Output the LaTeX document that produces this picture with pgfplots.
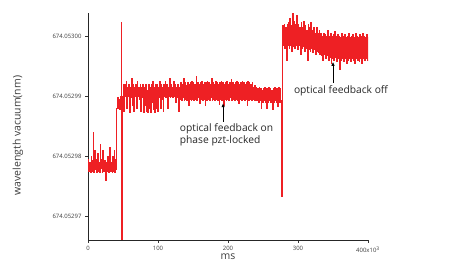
\documentclass[border=0pt]{standalone}
\usepackage{pgfplots}
\pgfplotsset{compat=1.18}
\usepackage{fontspec}
\setmainfont{Open Sans}
\usetikzlibrary{arrows.meta}
\definecolor{myred}{RGB}{238,32,36}
\definecolor{lab}{RGB}{60,60,60}
\begin{document}
\begin{tikzpicture}
\useasboundingbox (0,0) rectangle (453bp,271bp);
\begin{axis}[
  at={(88bp,31bp)}, anchor=south west,
  scale only axis, width=280bp, height=227bp,
  xmin=0, xmax=400, ymin=-0.4, ymax=3.383,
  axis lines=left, axis line style={-, line width=0.8pt, black!85},
  tick align=outside, tick style={black!80, line width=0.5pt},
  major tick length=3bp,
  xtick={0,100,200,300,400},
  xticklabels={0,100,200,300,400x10\textsuperscript{3}},
  ytick={0,1,2,3},
  yticklabels={674.05297,674.05298,674.05299,674.05300},
  ticklabel style={font=\fontsize{6}{7}\selectfont, text=lab},
  xlabel={ms}, ylabel={wavelength vacuum(nm)},
  xlabel style={at={(axis description cs:0.5,-0.075)}, anchor=center, font=\fontsize{10.5}{12}\selectfont, text=lab},
  ylabel style={at={(axis description cs:-0.25,0.46)}, anchor=center, font=\fontsize{10.5}{12}\selectfont, text=lab},
  clip mode=individual,
]
\addplot[const plot, myred, line width=0.6pt, line join=miter] coordinates {
(0,0.95)(1,0.75)(2,0.9)(3,0.72)(4,1.0)(5,0.75)(6,0.92)(7,1.4)(8,0.72)(9,1.1)(10,0.78)
(11,0.95)(12,0.72)(13,1.05)(14,0.75)(15,0.9)(16,0.72)(17,1.2)(18,0.8)(19,0.95)(20,0.72)
(21,1.1)(22,0.75)(23,0.92)(24,0.78)(25,0.6)(26,0.9)(27,0.75)(28,1.0)(29,0.72)(30,0.95)
(31,1.15)(32,0.75)(33,0.9)(34,0.72)(35,1.0)(36,0.75)(37,1.1)(38,0.72)(39,0.95)(40,0.78)
(41,1.8)(42,1.98)(43,1.8)(44,1.95)(45,1.78)(46,2.0)(47,3.22)(48,-0.45)(49,2.0)
(50,2.2)(51,1.75)(52,2.2)(53,2.0)(54,2.25)(55,1.8)(56,2.15)(57,2.0)(58,2.2)(59,1.72)
(60,2.15)(61,1.98)(62,2.3)(63,1.85)(64,2.2)(65,1.75)(66,2.15)(67,2.0)(68,2.2)(69,1.8)
(70,2.25)(71,2.0)(72,2.15)(73,1.95)(74,2.2)(75,1.75)(76,2.15)(77,1.98)(78,2.2)(79,1.72)
(80,2.15)(81,1.85)(82,2.2)(83,1.75)(84,2.1)(85,1.72)(86,2.2)(87,1.8)(88,2.15)(89,1.72)
(90,2.2)(91,1.9)(92,2.25)(93,1.78)(94,2.15)(95,1.72)(96,2.2)(97,1.8)(98,2.2)(99,1.75)
(100,2.15)(101,1.98)(102,2.25)(103,1.8)(104,2.2)(105,1.95)(106,2.15)(107,1.75)(108,2.2)(109,2.0)
(110,2.25)(111,1.98)(112,2.2)(113,1.8)(114,2.15)(115,2.0)(116,2.3)(117,1.98)(118,2.2)(119,2.0)
(120,2.15)(121,1.98)(122,2.25)(123,2.0)(124,2.2)(125,1.9)(126,2.15)(127,1.98)(128,2.2)(129,1.75)
(130,2.15)(131,1.95)(132,2.22)(133,1.93)(134,2.2)(135,1.97)(136,2.3)(137,1.93)(138,2.22)(139,1.95)
(140,2.18)(141,1.93)(142,2.22)(143,1.85)(144,2.2)(145,1.95)(146,2.22)(147,1.93)(148,2.25)(149,1.95)
(150,2.22)(151,1.92)(152,2.2)(153,1.95)(154,2.32)(155,1.93)(156,2.22)(157,1.97)(158,2.2)(159,1.88)
(160,2.22)(161,1.95)(162,2.24)(163,1.93)(164,2.2)(165,1.95)(166,2.22)(167,1.85)(168,2.22)(169,1.93)
(170,2.25)(171,1.95)(172,2.22)(173,1.93)(174,2.2)(175,1.97)(176,2.3)(177,1.93)(178,2.22)(179,1.95)
(180,2.2)(181,1.92)(182,2.24)(183,1.95)(184,2.22)(185,1.93)(186,2.2)(187,1.86)(188,2.22)(189,1.95)
(190,2.25)(191,1.93)(192,2.22)(193,1.85)(194,2.2)(195,1.95)(196,2.22)(197,1.93)(198,2.24)(199,1.95)
(200,2.2)(201,1.93)(202,2.22)(203,1.97)(204,2.28)(205,1.93)(206,2.22)(207,1.95)(208,2.2)(209,1.92)
(210,2.22)(211,1.95)(212,2.24)(213,1.93)(214,2.22)(215,1.88)(216,2.2)(217,1.95)(218,2.22)(219,1.93)
(220,2.25)(221,1.95)(222,2.22)(223,1.93)(224,2.2)(225,1.95)(226,2.22)(227,1.85)(228,2.24)(229,1.93)
(230,2.22)(231,1.95)(232,2.2)(233,1.93)(234,2.22)(235,1.95)(236,2.15)(237,1.92)(238,2.18)(239,1.93)
(240,2.15)(241,1.92)(242,2.12)(243,1.9)(244,2.14)(245,1.92)(246,2.12)(247,1.8)(248,2.1)(249,1.9)
(250,2.12)(251,1.92)(252,2.15)(253,1.9)(254,2.12)(255,1.8)(256,2.12)(257,1.9)(258,2.14)(259,1.92)
(260,2.12)(261,1.9)(262,2.1)(263,1.78)(264,2.12)(265,1.9)(266,2.15)(267,1.92)(268,2.12)(269,1.9)
(270,2.12)(271,1.82)(272,2.14)(273,1.9)(274,2.12)(275,1.92)(276,0.32)(277,2.9)
(278,3.18)(279,2.85)(280,3.2)(281,2.8)(282,3.15)(283,2.6)(284,3.2)(285,2.85)(286,3.22)(287,2.8)
(288,3.3)(289,2.85)(290,3.18)(291,2.75)(292,3.38)(293,2.82)(294,3.25)(295,2.8)(296,3.2)(297,2.85)
(298,3.35)(299,2.78)(300,3.2)(301,2.85)(302,3.15)(303,2.7)(304,3.22)(305,2.8)(306,3.15)(307,2.82)
(308,3.25)(309,2.75)(310,3.18)(311,2.8)(312,3.1)(313,2.6)(314,3.2)(315,2.78)(316,3.15)(317,2.75)
(318,3.22)(319,2.8)(320,3.1)(321,2.72)(322,3.15)(323,2.78)(324,3.05)(325,2.7)(326,3.15)(327,2.75)
(328,3.05)(329,2.72)(330,3.1)(331,2.7)(332,3.05)(333,2.68)(334,3.0)(335,2.6)(336,3.05)(337,2.7)
(338,3.02)(339,2.62)(340,3.0)(341,2.68)(342,3.1)(343,2.6)(344,3.0)(345,2.65)(346,3.05)(347,2.55)
(348,3.0)(349,2.62)(350,3.02)(351,2.6)(352,3.08)(353,2.65)(354,3.0)(355,2.58)(356,3.02)(357,2.62)
(358,3.0)(359,2.45)(360,2.98)(361,2.6)(362,3.05)(363,2.62)(364,3.0)(365,2.58)(366,3.02)(367,2.62)
(368,2.98)(369,2.55)(370,3.0)(371,2.6)(372,3.05)(373,2.62)(374,2.98)(375,2.58)(376,3.0)(377,2.62)
(378,3.02)(379,2.6)(380,2.98)(381,2.55)(382,3.05)(383,2.62)(384,3.0)(385,2.6)(386,2.98)(387,2.58)
(388,3.02)(389,2.62)(390,3.0)(391,2.55)(392,3.05)(393,2.62)(394,3.0)(395,2.6)(396,2.98)(397,2.62)
(398,3.02)(399,2.6)(400,2.98)
};
\draw[-{Latex[length=4bp,width=3.5bp]}, line width=1pt] (axis cs:193,1.57) -- (axis cs:193,1.88);
\draw[-{Latex[length=4bp,width=3.5bp]}, line width=1pt] (axis cs:350,2.22) -- (axis cs:350,2.57);
\node[anchor=north west, align=left, font=\fontsize{10.3}{13}\selectfont, text=black!85, inner sep=0pt]
  at (axis cs:131,1.55) {optical feedback on\\phase pzt-locked};
\node[anchor=north west, align=left, font=\fontsize{10.3}{13}\selectfont, text=black!85, inner sep=0pt]
  at (axis cs:294,2.17) {optical feedback off};
\end{axis}
\end{tikzpicture}
\end{document}
